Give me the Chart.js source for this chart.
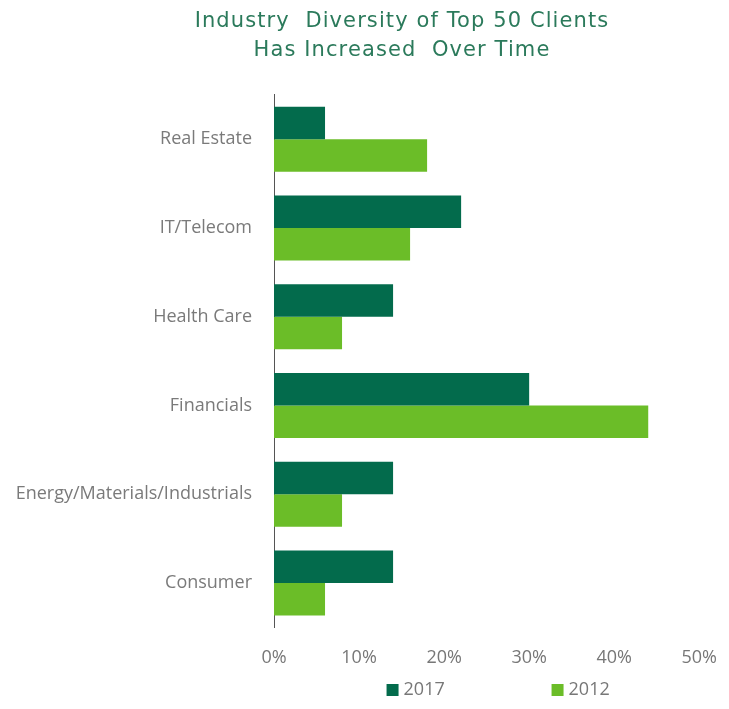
<!DOCTYPE html>
<html>
<head>
<meta charset="utf-8">
<script src="https://cdn.jsdelivr.net/npm/chart.js@4"></script>
<style>
  html, body { margin: 0; padding: 0; background: #fff; }
  #wrap { width: 729px; height: 709px; }
</style>
</head>
<body>
<div id="wrap"><canvas id="mychart"></canvas></div>
<script>
const categories = ['Real Estate', 'IT/Telecom', 'Health Care', 'Financials', 'Energy/Materials/Industrials', 'Consumer'];
const values2017 = [0.06, 0.22, 0.14, 0.30, 0.14, 0.14];
const values2012 = [0.18, 0.16, 0.08, 0.44, 0.08, 0.06];
const seriesNames = ['2017', '2012'];
const titleLines = ['Industry  Diversity of Top 50 Clients', 'Has Increased  Over Time'];

const fontFamily = '"Open Sans", "DejaVu Sans", sans-serif';
const labelFont = { family: fontFamily, size: 18 };

// title nudged right + letter spaced, and a wide legend under the axis
const titleAndLegend = {
    id: 'titleAndLegend',
    beforeDraw(chart) {
        const tb = chart.titleBlock;
        if (tb && !tb._patched) {
            const orig = tb.draw.bind(tb);
            tb.draw = function () {
                const ctx = chart.ctx;
                ctx.save();
                ctx.translate(38.5, 1);
                ctx.letterSpacing = '1.1px';
                orig();
                ctx.restore();
            };
            tb._patched = true;
        }
    },
    afterDraw(chart) {
        const ctx = chart.ctx;
        const area = chart.chartArea;
        const box = 12;
        const step = 165;
        ctx.save();
        ctx.font = `${labelFont.size}px ${fontFamily}`;
        const items = chart.data.datasets.map(ds => ({
            text: ds.label, color: ds.backgroundColor, w: box + 6 + ctx.measureText(ds.label).width
        }));
        const total = step * (items.length - 1) + items[items.length - 1].w;
        let x = (area.left + area.right) / 2 + 12 - total / 2;
        const y = chart.height - 19;
        ctx.textBaseline = 'middle';
        ctx.textAlign = 'left';
        items.forEach(it => {
            ctx.fillStyle = it.color;
            ctx.fillRect(x, y - box / 2, box, box);
            ctx.fillStyle = '#777';
            ctx.fillText(it.text, x + box + 5, y);
            x += step;
        });
        ctx.restore();
    }
};

new Chart(document.getElementById('mychart'), {
    type: 'bar',
    data: {
        labels: categories,
        datasets: [
            { label: seriesNames[0], data: values2017, backgroundColor: '#036b4c' },
            { label: seriesNames[1], data: values2012, backgroundColor: '#6bbd28' }
        ]
    },
    options: {
        indexAxis: 'y',
        responsive: true,
        maintainAspectRatio: false,
        animation: false,
        categoryPercentage: 0.733,
        barPercentage: 1.0,
        layout: { padding: { left: 10, right: 12, top: 0, bottom: 28 } },
        plugins: {
            title: {
                display: true,
                text: titleLines,
                color: '#2b7a5b',
                font: { family: '"DejaVu Sans", sans-serif', size: 21, weight: 'normal', lineHeight: 1.38 },
                padding: { top: 6, bottom: 31 }
            },
            legend: { display: false },
            tooltip: { enabled: false }
        },
        scales: {
            x: {
                min: 0,
                max: 0.5,
                grid: { display: false },
                border: { display: false },
                ticks: {
                    stepSize: 0.1,
                    color: '#777',
                    font: labelFont,
                    padding: 12,
                    callback: v => Math.round(v * 100) + '%'
                }
            },
            y: {
                afterFit: scale => { scale.width = 264; },
                grid: { display: false, drawTicks: false },
                border: { display: true, color: '#555', width: 1 },
                ticks: { color: '#7a7a7a', font: labelFont, padding: 22 }
            }
        }
    },
    plugins: [titleAndLegend]
});
</script>
</body>
</html>
